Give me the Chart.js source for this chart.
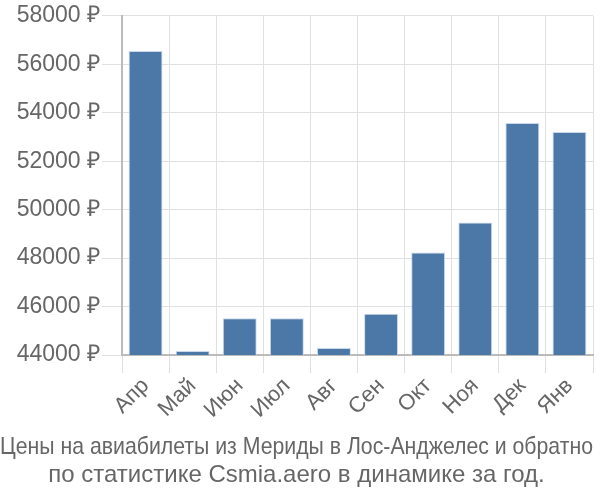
<!DOCTYPE html>
<html>
<head>
<meta charset="utf-8">
<script src="https://cdn.jsdelivr.net/npm/chart.js@4/dist/chart.umd.min.js"></script>
<style>
  html, body { margin: 0; padding: 0; background: #fff; }
  #wrap { width: 600px; height: 500px; }
</style>
</head>
<body>
<div id="wrap"><canvas id="priceChart"></canvas></div>
<script>
const months = ['Апр', 'Май', 'Июн', 'Июл', 'Авг', 'Сен', 'Окт', 'Ноя', 'Дек', 'Янв'];
const prices = [56550, 44170, 45520, 45520, 44290, 45700, 48230, 49470, 53580, 53210];
const titleLines = [
  'Цены на авиабилеты из Мериды в Лос-Анджелес и обратно',
  'по статистике Csmia.aero в динамике за год.'
];

Chart.defaults.font.family = '"Liberation Sans", Arial, sans-serif';
Chart.defaults.color = '#666';

new Chart(document.getElementById('priceChart').getContext('2d'), {
  type: 'bar',
  data: {
    labels: months,
    datasets: [{
      data: prices,
      backgroundColor: '#4c78a8',
      borderColor: '#c9d8ea',
      borderWidth: 1
    }]
  },
  options: {
    responsive: true,
    maintainAspectRatio: false,
    animation: false,
    layout: { padding: { left: 0, right: 7, top: 5, bottom: 0 } },
    plugins: {
      legend: { display: false },
      tooltip: { enabled: false },
      title: {
        display: true,
        position: 'bottom',
        text: titleLines,
        color: '#666',
        font: { size: 24, weight: 'normal', lineHeight: 1.16 },
        padding: { top: 10, bottom: 11 }
      }
    },
    scales: {
      x: {
        grid: { color: '#e0e0e0', tickLength: 18 },
        border: { color: '#bbb', width: 2 },
        ticks: {
          font: { size: 22 },
          color: '#666',
          maxRotation: 45,
          minRotation: 45,
          padding: 0
        }
      },
      y: {
        min: 44000,
        max: 58000,
        afterFit: scale => { scale.width = 122; },
        grid: { color: '#e0e0e0', tickLength: 20 },
        border: { color: '#bbb', width: 2 },
        ticks: {
          stepSize: 2000,
          font: { size: 23 },
          color: '#666',
          padding: 2,
          callback: v => v + ' ₽'
        }
      }
    }
  }
});
</script>
</body>
</html>
